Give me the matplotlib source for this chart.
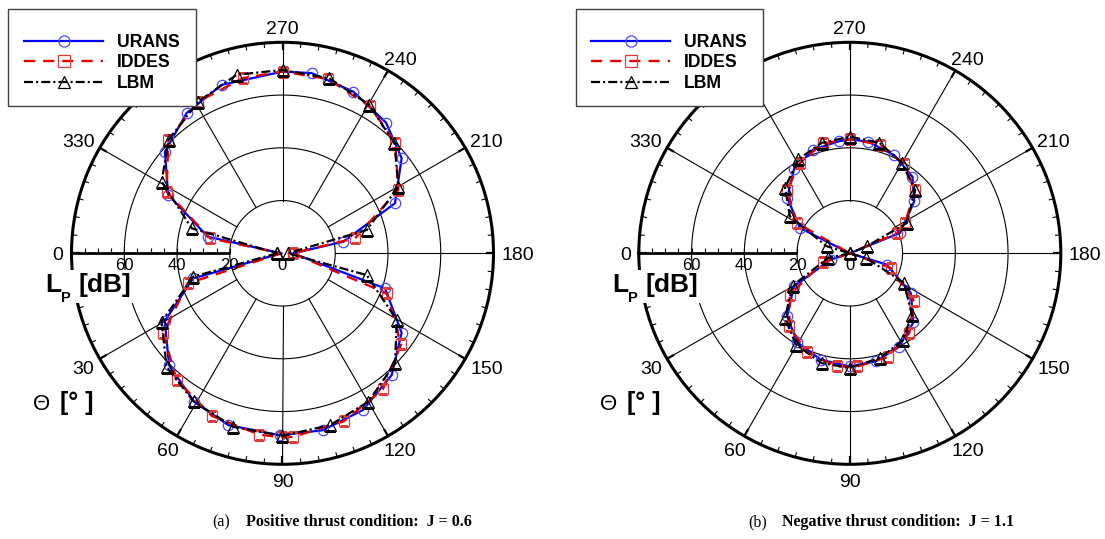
import numpy as np
import matplotlib
matplotlib.use("Agg")
import matplotlib.pyplot as plt
from matplotlib.patches import Rectangle

# ---------------- data: directivity angle Theta [deg] and L_P [dB] ----------------
# (a) positive thrust, J = 0.6
URANS_A_TH = [0, 15.7, 29.9, 44.6, 59.3, 72.5, 89.2, 102.8, 117.1, 131.9, 146.3, 161.1, 180,
              190.8, 204.0, 218.6, 231.6, 246.3, 260.8, 270, 289.9, 304.4, 319.2, 332.9, 347.5, 360]
URANS_A_R = [0.5, 35.2, 51.5, 60.4, 65.5, 68.3, 69.0, 68.8, 66.8, 62.0, 54.3, 41.1, 4.0,
             23.5, 46.7, 57.8, 63.2, 66.9, 69.2, 68.9, 67.9, 64.4, 58.9, 48.7, 29.0, 0.5]
IDDES_A_TH = [0, 17.6, 33.9, 50.1, 66.4, 82.7, 90, 93.4, 110.1, 126.4, 142.5, 159.0, 180,
              191.7, 208.7, 224.5, 239.2, 255.3, 270, 282.6, 299.0, 315.2, 332.0, 348.3, 360]
IDDES_A_R = [0.5, 37.7, 54.5, 62.6, 67.2, 69.3, 69.8, 69.7, 67.8, 64.1, 56.7, 42.4, 3.9,
             28.1, 50.1, 59.9, 64.8, 68.3, 68.9, 68.1, 65.8, 61.0, 49.8, 28.0, 0.5]
LBM_A_TH = [0, 14.7, 29.5, 44.4, 59.0, 74.2, 90, 105.5, 120.0, 135.6, 149.7, 165.5, 180,
            195.5, 209.9, 224.5, 239.7, 255.1, 270, 284.4, 299.0, 315.0, 329.3, 344.6, 360]
LBM_A_R = [2.0, 35.0, 52.7, 61.5, 65.5, 68.4, 69.2, 67.6, 65.0, 59.7, 50.2, 33.0, 2.0,
           33.2, 50.7, 59.5, 65.2, 68.7, 69.5, 69.9, 65.8, 61.0, 53.3, 35.7, 2.0]

# (b) negative thrust, J = 1.1
URANS_B_TH = [0, 18.3, 30.6, 45.2, 59.5, 74.7, 90, 103.5, 117.7, 132.6, 147.0, 163.0, 180,
              202.1, 218.9, 230.7, 245.5, 260.6, 270, 275.4, 289.4, 303.7, 318.4, 333.0, 360]
URANS_B_R = [0, 7.6, 24.6, 33.7, 39.2, 41.8, 42.9, 42.1, 40.1, 35.6, 27.6, 14.6, 0,
             20.6, 31.4, 37.5, 40.8, 42.9, 43.2, 42.7, 41.7, 38.2, 31.7, 21.2, 0]
IDDES_B_TH = [0, 18.4, 34.6, 50.4, 66.8, 83.4, 93.8, 110.1, 126.8, 143.2, 160.4, 180,
              203.0, 208.8, 224.0, 238.6, 254.5, 270, 283.9, 298.9, 314.8, 330.2, 360]
IDDES_B_R = [0, 10.8, 27.6, 36.0, 40.9, 43.2, 43.0, 41.9, 37.7, 30.4, 16.5, 0,
             19.5, 23.9, 34.4, 39.5, 42.8, 43.2, 42.9, 39.2, 33.7, 23.2, 0]
LBM_B_TH = [0, 12.0, 29.5, 44.9, 59.5, 75.6, 90, 106.1, 121.3, 135.3, 151.4, 164.0, 180,
            202.5, 208.0, 224.0, 240.1, 255.0, 270, 284.3, 298.8, 314.7, 328.3, 343.0, 360]
LBM_B_R = [0, 8.4, 24.9, 34.7, 40.2, 43.0, 43.4, 41.3, 38.6, 33.1, 23.4, 6.4, 0,
           6.9, 24.5, 34.4, 39.6, 43.4, 44.2, 43.2, 40.6, 34.9, 26.7, 9.2, 0]

SERIES_NAMES = ["URANS", "IDDES", "LBM"]
CASE_TAGS = ["(a)", "(b)"]
CASE_TITLES = ["Positive thrust condition:  J = 0.6", "Negative thrust condition:  J = 1.1"]
# the 300 deg label is hidden behind the legend in the reference
ANGLE_TICKS = [0, 30, 60, 90, 120, 150, 180, 210, 240, 270, 330]
RADIAL_TICKS = [60, 40, 20, 0]
R_MAX = 80

# ---------------- styling ----------------
plt.rcParams["font.family"] = ["Liberation Sans", "DejaVu Sans"]
plt.rcParams["lines.scale_dashes"] = False

W, H, DPI = 1105, 539, 100
fig = plt.figure(figsize=(W / DPI, H / DPI), dpi=DPI)
fig.patch.set_facecolor("white")

ov = fig.add_axes([0, 0, 1, 1])
ov.set_xlim(0, W)
ov.set_ylim(H, 0)
ov.axis("off")
ov.set_zorder(10)
ov.patch.set_alpha(0)

R_PX = 211.0
S = R_PX / R_MAX
CENTERS = [(282.5, 253.3), (849.8, 253.3)]

STYLES = {
    "URANS": dict(color="#0000ff", ls="-", lw=1.6, marker="o", ms=7.5, mfc="none",
                  mec="#4a4aff", mew=0.9),
    "IDDES": dict(color="#e00000", ls=(0, (8, 5.8)), lw=1.7, marker="s", ms=7.5, mfc="none",
                  mec="#e03a3a", mew=0.9),
    "LBM": dict(color="black", ls=(0, (6.5, 2.2, 1.5, 2.2)), lw=1.6, marker="^", ms=8.5,
                mfc="none", mec="black", mew=0.9),
}

DATA = [
    [(URANS_A_TH, URANS_A_R), (IDDES_A_TH, IDDES_A_R), (LBM_A_TH, LBM_A_R)],
    [(URANS_B_TH, URANS_B_R), (IDDES_B_TH, IDDES_B_R), (LBM_B_TH, LBM_B_R)],
]
CAP_X = [(212, 246), (748, 782)]

for k, (cx, cy) in enumerate(CENTERS):
    ax = fig.add_axes([(cx - R_PX) / W, (H - cy - R_PX) / H, 2 * R_PX / W, 2 * R_PX / H],
                      projection="polar")
    ax.set_autoscale_on(False)
    ax.set_theta_zero_location("W")
    ax.set_theta_direction(1)
    ax.set_ylim(0, R_MAX)
    ax.set_xticks([])
    ax.set_yticks([])
    ax.grid(False)
    ax.spines["polar"].set_linewidth(2.2)

    tt = np.linspace(0, 2 * np.pi, 721)
    for rr in (20, 40, 60):
        ax.plot(tt, np.full_like(tt, rr), color="black", lw=0.8, zorder=1)
    for d in range(30, 360, 30):
        ax.plot([np.deg2rad(d)] * 2, [20, R_MAX], color="black", lw=0.8, zorder=1)
    ax.plot([0, 0], [20, R_MAX], color="black", lw=2.0, zorder=1.5, solid_capstyle="butt")
    for d in range(0, 360, 5):
        major = d % 30 == 0
        L = 8 if major else 5
        ax.plot([np.deg2rad(d)] * 2, [R_MAX - L / S, R_MAX], color="black",
                lw=1.6 if major else 0.8, zorder=1.5, solid_capstyle="butt")

    for name, (th, r) in zip(SERIES_NAMES, DATA[k]):
        st = STYLES[name]
        me = None if name == "LBM" else [i for i, v in enumerate(r) if v >= 1]
        ax.plot(np.deg2rad(th), r, markevery=me, zorder=3, **st)
    ax.set_ylim(0, R_MAX)

    # radial axis ticks + labels along the 0 deg line
    for v in range(20, R_MAX + 1, 5):
        x = cx - v * S
        ov.plot([x, x], [cy, cy - 5], color="black", lw=0.8, solid_capstyle="butt")
    for v in RADIAL_TICKS:
        ov.text(cx - v * S, cy + 16.5, str(v), ha="center", va="baseline", fontsize=12)

    # angle labels
    for d in ANGLE_TICKS:
        a = np.deg2rad(180 + d)
        ux, uy = np.cos(a), -np.sin(a)
        s = str(d)
        w, h = 11.0 * len(s), 14.3
        x = cx + (R_PX + 8) * ux + w / 2 * ux
        y = cy + (R_PX + 8) * uy + h / 2 * uy
        ov.text(x, y + h / 2, s, ha="center", va="baseline", fontsize=14)

    # axis titles
    ox = cx - 282.5
    ov.add_patch(Rectangle((ox + 44, 270), 95, 33, fc="white", ec="none", zorder=1))
    ov.text(ox + 45, 291.7, "L", fontsize=19, fontweight="bold", va="baseline", zorder=3)
    ov.text(ox + 60.5, 301.7, "P", fontsize=10.5, fontweight="bold", va="baseline", zorder=3)
    ov.text(ox + 78.5, 291.7, "[dB]", fontsize=19, fontweight="bold", va="baseline", zorder=3)
    ov.text(ox + 32.5, 410, "\u0398", fontsize=16, va="baseline", zorder=3)
    ov.text(ox + 60, 410, "[\u00b0 ]", fontsize=18, fontweight="bold", va="baseline", zorder=3)

    # legend
    lx, ly = cx - 274.2, 9.3
    ov.add_patch(Rectangle((lx, ly), 187.7, 96.7, fc="white", ec="#404040", lw=1.0, zorder=2))
    for j, name in enumerate(SERIES_NAMES):
        y = 40.7 + 20.65 * j
        st = STYLES[name]
        ov.plot([lx + 15.7, lx + 94.7], [y, y], color=st["color"], ls=st["ls"], lw=st["lw"], zorder=3)
        ov.plot([lx + 55.7], [y], ls="none", marker=st["marker"], ms=st["ms"] + 0.5, mfc="none",
                mec=st["mec"], mew=st["mew"], zorder=4)
        ov.text(lx + 108.7, y + 6.0, name, fontsize=12.7, fontweight="bold", va="baseline", zorder=4)

    # caption
    ov.text(CAP_X[k][0], 526, CASE_TAGS[k], family="Liberation Serif", fontsize=11.5, va="baseline")
    ov.text(CAP_X[k][1], 526, CASE_TITLES[k], family="Liberation Serif", fontsize=11.5,
            fontweight="bold", va="baseline")

fig.savefig("out.png", dpi=DPI, facecolor="white")
